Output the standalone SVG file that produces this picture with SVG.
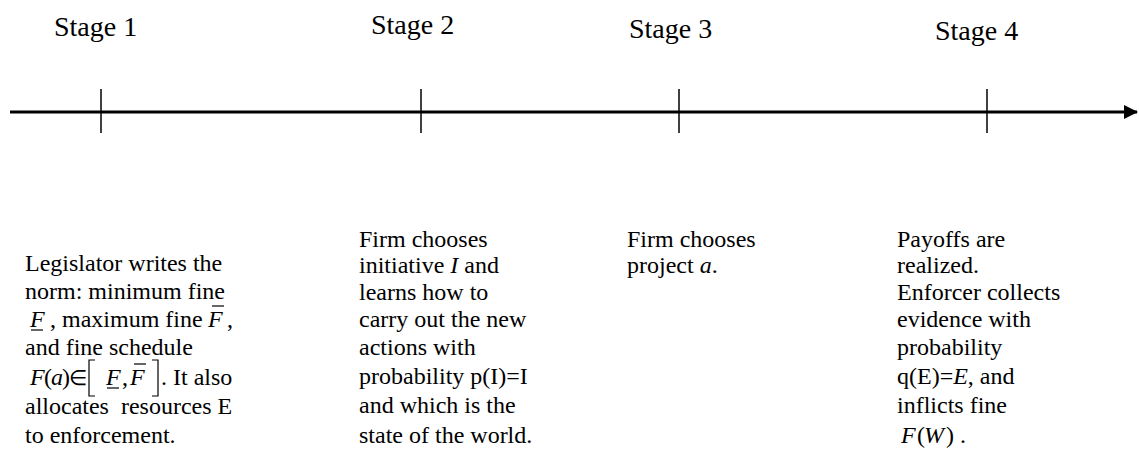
<svg xmlns="http://www.w3.org/2000/svg" width="1139" height="462" viewBox="0 0 1139 462">
<style>
text{font-family:"Liberation Serif","Times New Roman",serif;font-size:24px;fill:#000}
.st{font-size:28px}
.i{font-style:italic}
.tick{stroke:#000;stroke-width:1.5}
.bar{stroke:#000;stroke-width:1.2;fill:none}
</style>
<defs>
<marker id="ah" markerWidth="14" markerHeight="14" refX="13" refY="7" orient="auto" markerUnits="userSpaceOnUse">
<path d="M0,0 L14,7 L0,14 Z" fill="#000"/>
</marker>
</defs>
<g id="connectors">
<line x1="10" y1="112" x2="1137" y2="112" stroke="#000" stroke-width="3" marker-end="url(#ah)"/>
<line class="tick" x1="101" y1="89" x2="101" y2="133"/>
<line class="tick" x1="421" y1="89" x2="421" y2="133"/>
<line class="tick" x1="679" y1="89" x2="679" y2="133"/>
<line class="tick" x1="987" y1="89" x2="987" y2="133"/>
</g>
<g id="stage1">
<text class="st" x="54" y="36">Stage 1</text>
<text x="25" y="271">Legislator writes the</text>
<text x="25" y="299">norm: minimum fine</text>
<text class="i" x="30" y="327">F</text>
<line class="bar" x1="31" y1="330" x2="43" y2="330"/>
<text x="50" y="327">, maximum fine</text>
<text class="i" x="208" y="327">F</text>
<line class="bar" x1="212" y1="306" x2="224" y2="306"/>
<text x="227" y="327">,</text>
<text x="25" y="355">and fine schedule</text>
<text class="i" x="30" y="385">F</text>
<text x="44" y="385">(</text>
<text class="i" x="51" y="385">a</text>
<text x="62" y="385">)</text>
<text x="69" y="385" style="font-size:21px">∈</text>
<path class="bar" d="M95,360 L89,360 L89,396 L95,396"/>
<text class="i" x="106" y="385">F</text>
<line class="bar" x1="107" y1="388" x2="119" y2="388"/>
<text x="122" y="385">,</text>
<text class="i" x="130" y="385">F</text>
<line class="bar" x1="134" y1="364" x2="146" y2="364"/>
<path class="bar" d="M152,360 L158,360 L158,396 L152,396"/>
<text x="161" y="385">. It also</text>
<text x="25" y="414" xml:space="preserve">allocates  resources E</text>
<text x="25" y="443">to enforcement.</text>
</g>
<g id="stage2">
<text class="st" x="371" y="34">Stage 2</text>
<text x="359" y="247">Firm chooses</text>
<text x="359" y="273">initiative <tspan class="i">I</tspan> and</text>
<text x="359" y="300">learns how to</text>
<text x="359" y="327">carry out the new</text>
<text x="359" y="355">actions with</text>
<text x="359" y="384">probability p(I)=I</text>
<text x="359" y="413">and which is the</text>
<text x="359" y="443">state of the world.</text>
</g>
<g id="stage3">
<text class="st" x="629" y="38">Stage 3</text>
<text x="627" y="247">Firm chooses</text>
<text x="627" y="273">project <tspan class="i">a</tspan>.</text>
</g>
<g id="stage4">
<text class="st" x="935" y="40">Stage 4</text>
<text x="897" y="247">Payoffs are</text>
<text x="897" y="273">realized.</text>
<text x="897" y="300">Enforcer collects</text>
<text x="897" y="327">evidence with</text>
<text x="897" y="355">probability</text>
<text x="897" y="384">q(E)=<tspan class="i">E</tspan>, and</text>
<text x="897" y="413">inflicts fine</text>
<text class="i" x="901" y="443">F</text>
<text x="917" y="443">(</text>
<text class="i" x="924" y="443">W</text>
<text x="946" y="443">)</text>
<text x="960" y="443">.</text>
</g>
</svg>
